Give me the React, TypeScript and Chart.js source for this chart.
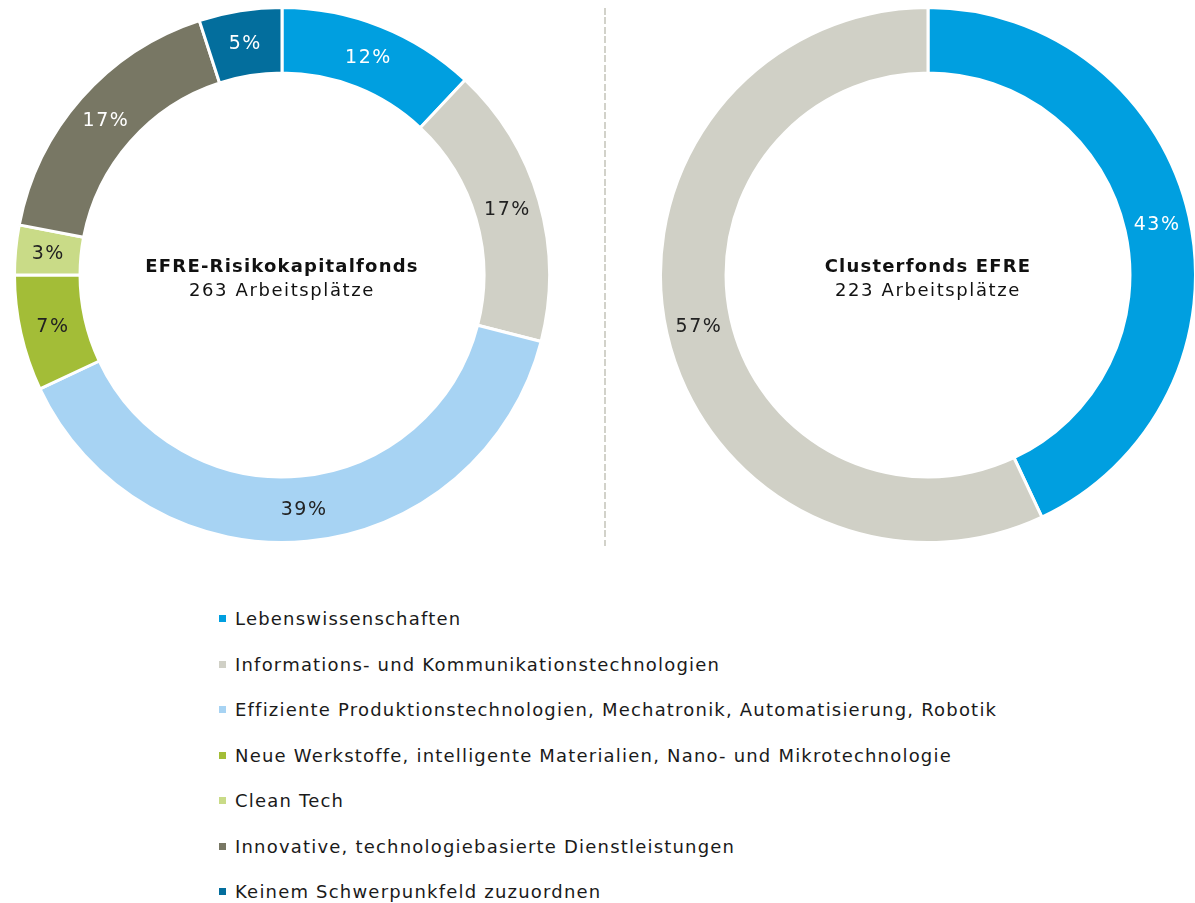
import React, { useEffect, useRef } from "react";
import { Chart, registerables } from "chart.js";

Chart.register(...registerables);

const categories = [
  "Lebenswissenschaften",
  "Informations- und Kommunikationstechnologien",
  "Effiziente Produktionstechnologien, Mechatronik, Automatisierung, Robotik",
  "Neue Werkstoffe, intelligente Materialien, Nano- und Mikrotechnologie",
  "Clean Tech",
  "Innovative, technologiebasierte Dienstleistungen",
  "Keinem Schwerpunkfeld zuzuordnen",
];
const colors = ["#009FE0", "#D0D0C6", "#A7D3F3", "#A3BD37", "#C9DB87", "#787764", "#036E9D"];
const labelColors = ["#FFFFFF", "#222222", "#222222", "#222222", "#222222", "#FFFFFF", "#FFFFFF"];

const leftTitle = "EFRE-Risikokapitalfonds";
const leftSubtitle = "263 Arbeitsplätze";
const leftValues = [12, 17, 39, 7, 3, 17, 5];

const rightTitle = "Clusterfonds EFRE";
const rightSubtitle = "223 Arbeitsplätze";
const rightCategories = [categories[0], categories[1]];
const rightValues = [43, 57];

const FONT = "'DejaVu Sans', Verdana, sans-serif";

function makeChart(canvas: HTMLCanvasElement, labels: string[], values: number[], bg: string[], lc: string[], title: string, subtitle: string) {
  const plugin = {
    id: "labelsAndCenter",
    afterDatasetsDraw(chart: any) {
      const ctx = chart.ctx;
      const meta = chart.getDatasetMeta(0);
      ctx.save();
      (ctx as any).letterSpacing = "1.5px";
      ctx.textAlign = "center";
      ctx.textBaseline = "middle";
      ctx.font = `19px ${FONT}`;
      meta.data.forEach((arc: any, i: number) => {
        const p = arc.tooltipPosition();
        ctx.fillStyle = lc[i];
        ctx.fillText(values[i] + "%", p.x, p.y + 1);
      });
      const cx = (chart.chartArea.left + chart.chartArea.right) / 2;
      const cy = (chart.chartArea.top + chart.chartArea.bottom) / 2;
      ctx.fillStyle = "#111111";
      (ctx as any).letterSpacing = "1.2px";
      ctx.font = `bold 18px ${FONT}`;
      ctx.fillText(title, cx, cy - 8);
      (ctx as any).letterSpacing = "1.6px";
      ctx.font = `18px ${FONT}`;
      ctx.fillText(subtitle, cx, cy + 16);
      ctx.restore();
    },
  };
  return new Chart(canvas, {
    type: "doughnut",
    data: {
      labels,
      datasets: [
        {
          data: values,
          backgroundColor: bg,
          borderColor: "#FFFFFF",
          borderWidth: 3,
        },
      ],
    },
    options: {
      responsive: false,
      animation: false,
      cutout: "75.5%",
      layout: { padding: 0 },
      plugins: { legend: { display: false }, tooltip: { enabled: false } },
    },
    plugins: [plugin],
  });
}

export default function App() {
  const leftRef = useRef<HTMLCanvasElement>(null);
  const rightRef = useRef<HTMLCanvasElement>(null);

  useEffect(() => {
    const a = makeChart(leftRef.current!, categories, leftValues, colors, labelColors, leftTitle, leftSubtitle);
    const b = makeChart(
      rightRef.current!,
      rightCategories,
      rightValues,
      colors.slice(0, 2),
      labelColors.slice(0, 2),
      rightTitle,
      rightSubtitle
    );
    return () => {
      a.destroy();
      b.destroy();
    };
  }, []);

  return (
    <div
      style={{
        position: "fixed",
        left: 0,
        top: 0,
        width: 1195,
        height: 903,
        overflow: "hidden",
        background: "#FFFFFF",
        fontFamily: FONT,
      }}
    >
      <canvas ref={leftRef} width={538} height={538} style={{ position: "absolute", left: 13, top: 6 }} />
      <canvas ref={rightRef} width={538} height={538} style={{ position: "absolute", left: 659, top: 6 }} />
      <div
        style={{
          position: "absolute",
          left: 604,
          top: 8,
          width: 2,
          height: 538,
          background: "repeating-linear-gradient(to bottom, #D2D2CA 0px, #D2D2CA 7px, transparent 7px, transparent 9.5px)",
        }}
      />
      <div style={{ position: "absolute", left: 219, top: 596 }}>
        {categories.map((c, i) => (
          <div key={c} style={{ height: 45.5, display: "flex", alignItems: "center", whiteSpace: "nowrap" }}>
            <span style={{ display: "inline-block", width: 7, height: 7, background: colors[i], marginRight: 9 }} />
            <span style={{ fontSize: 18, letterSpacing: "1.2px", color: "#1A1A1A" }}>{c}</span>
          </div>
        ))}
      </div>
    </div>
  );
}
